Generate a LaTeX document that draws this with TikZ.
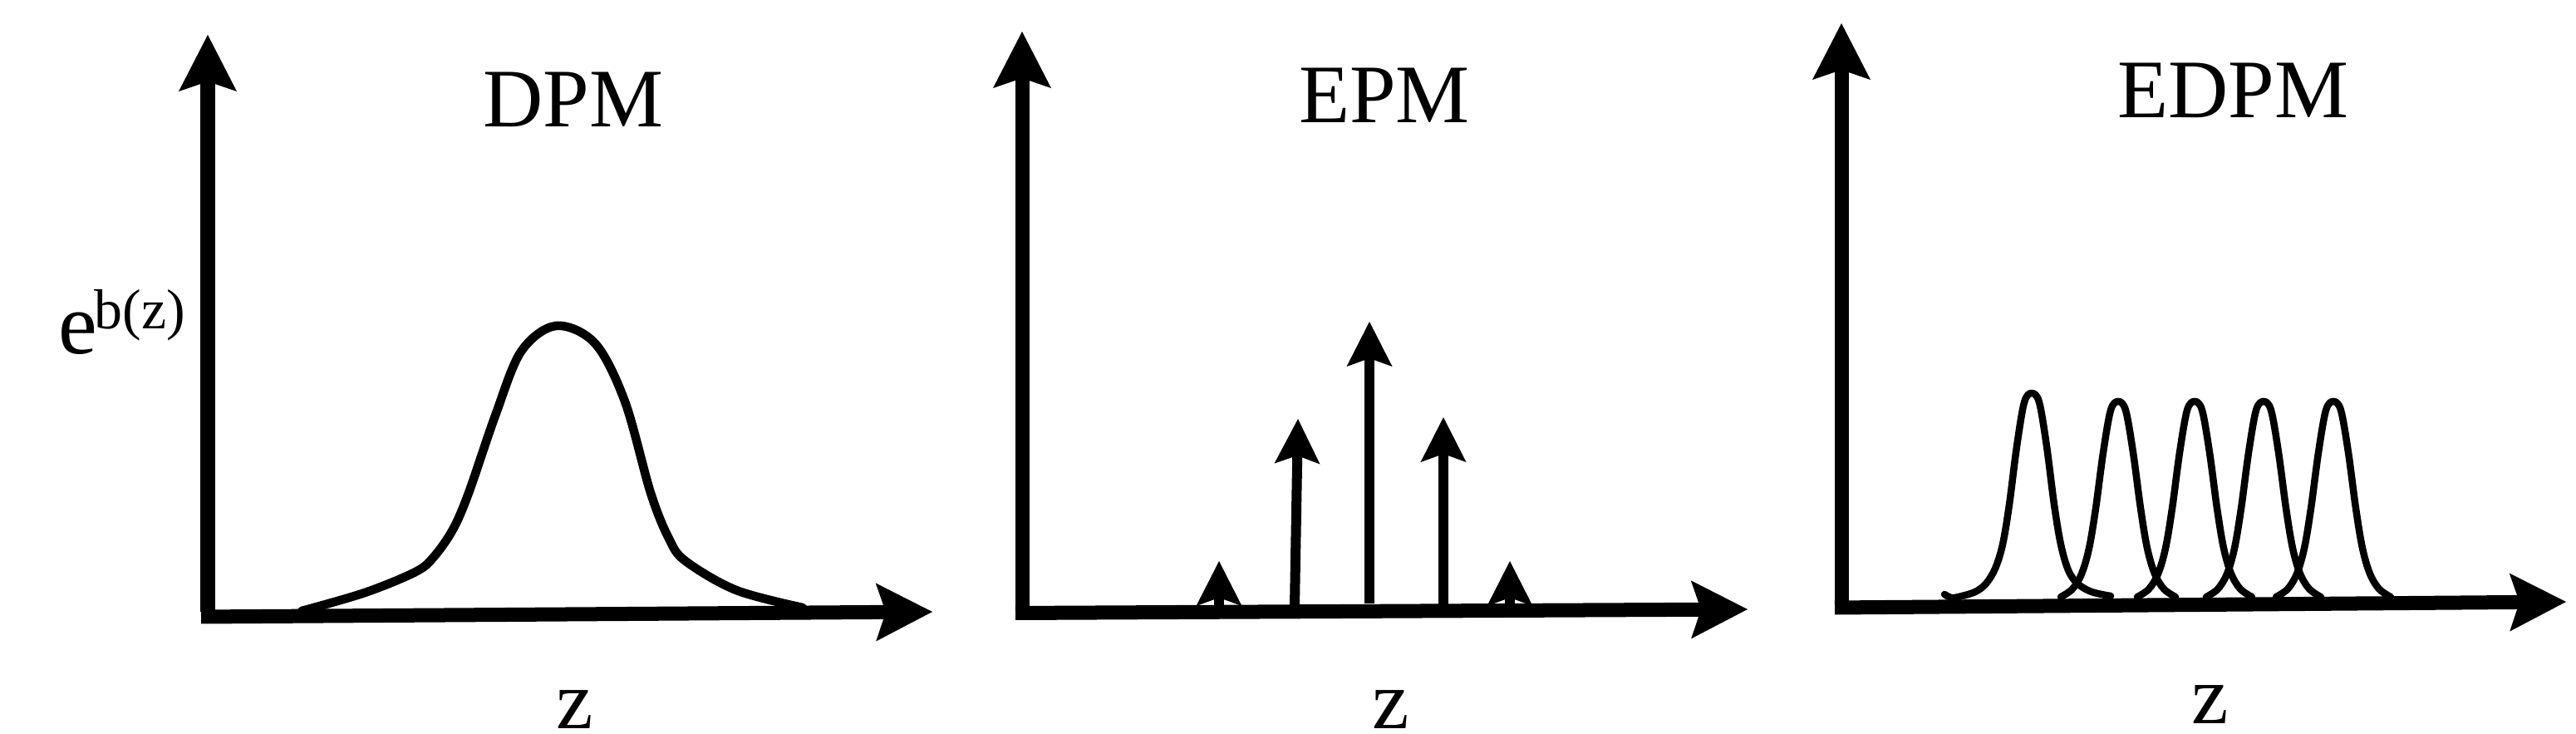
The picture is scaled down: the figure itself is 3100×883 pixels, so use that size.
\documentclass[tikz,border=0pt]{standalone}
\usepackage{fontspec}
\setmainfont{Liberation Serif}
\usetikzlibrary{arrows.meta}
\begin{document}
\begin{tikzpicture}[x=0.01cm,y=-0.01cm,
  axis/.style={line width=1.7mm,-{Stealth[length=6.8mm,width=7mm,inset=1.2mm,line width=0pt]}},
  spike/.style={line width=1.2mm,-{Stealth[length=5.4mm,width=5.5mm,inset=1mm,line width=0pt]}},
  curve/.style={line width=1.05mm,line join=round,line cap=round},
  peakline/.style={line width=0.85mm,line join=round,line cap=round},
  title/.style={font=\fontsize{28.45}{30}\selectfont,inner sep=0pt,anchor=base}]
\useasboundingbox (0,0) rectangle (3100,883);

% ---------- panel 1 : DPM ----------
\coordinate (v1b) at (250,736);
\coordinate (v1t) at (250,42);
\coordinate (h1l) at (242,742);
\coordinate (h1r) at (1122,736);
\draw[axis] (v1b) -- (v1t);
\draw[axis] (h1l) -- (h1r);
\draw[curve] plot[smooth,tension=0.55] coordinates {(363,735) (439,713) (500,688) (522,670) (545,637) (564,593) (596,500) (627,423) (669,392) (716,413) (752,483) (783,593) (805,648) (825,675) (886,710) (966,731)};
\node[title] (t1) at (690,153) {DPM};
\node[title] (z1) at (692,877) {z};
\node[font=\fontsize{29.9}{30}\selectfont,inner sep=0pt,anchor=base west] (e) at (70,426) {e};
\node[font=\fontsize{19.3}{20}\selectfont,inner sep=0pt,anchor=base west] (bz) at (113,396) {b(z)};

% ---------- panel 2 : EPM ----------
\coordinate (v2b) at (1230,731);
\coordinate (v2t) at (1230,38);
\coordinate (h2l) at (1222,737.5);
\coordinate (h2r) at (2103,733);
\draw[axis] (v2b) -- (v2t);
\draw[axis] (h2l) -- (h2r);
\coordinate (s1b) at (1467,730); \coordinate (s1t) at (1467,675);
\coordinate (s2b) at (1558,729); \coordinate (s2t) at (1562,504);
\coordinate (s3b) at (1648,726); \coordinate (s3t) at (1648,387);
\coordinate (s4b) at (1737,729); \coordinate (s4t) at (1737,502);
\coordinate (s5b) at (1817,730); \coordinate (s5t) at (1817,675);
\draw[spike] (s1b) -- (s1t);
\draw[spike] (s2b) -- (s2t);
\draw[spike] (s3b) -- (s3t);
\draw[spike] (s4b) -- (s4t);
\draw[spike] (s5b) -- (s5t);
\node[title] (t2) at (1666,148) {EPM};
\node[title] (z2) at (1674,877) {z};

% ---------- panel 3 : EDPM ----------
\coordinate (v3b) at (2216,726);
\coordinate (v3t) at (2216,28);
\coordinate (h3l) at (2208,731);
\coordinate (h3r) at (3088,724);
\draw[axis] (v3b) -- (v3t);
\draw[axis] (h3l) -- (h3r);
\begin{scope}[shift={(2445,722)}]
\draw[peakline] plot[smooth,tension=0.55] coordinates {(-105,-7) (-97,-3) (-88,-4) (-68,-10) (-55,-20) (-44,-38) (-35,-67) (-27,-115) (-18,-185) (-9,-238) (0,-249) (9,-238) (18,-185) (27,-115) (35,-67) (44,-36) (55,-20) (72,-10) (95,-5)};
\end{scope}
\foreach \c in {2549,2641,2724,2808}{
\begin{scope}[shift={(\c,722)},yscale=0.96]
\draw[peakline] plot[smooth,tension=0.55] coordinates {(-69,-4) (-55,-14) (-44,-33) (-35,-65) (-27,-115) (-18,-185) (-9,-238) (0,-249) (9,-238) (18,-185) (27,-115) (35,-65) (44,-33) (55,-14) (69,-4)};
\end{scope}}
\node[title] (t3) at (2687,142) {EDPM};
\node[title] (z3) at (2660,870) {z};
\end{tikzpicture}
\end{document}
